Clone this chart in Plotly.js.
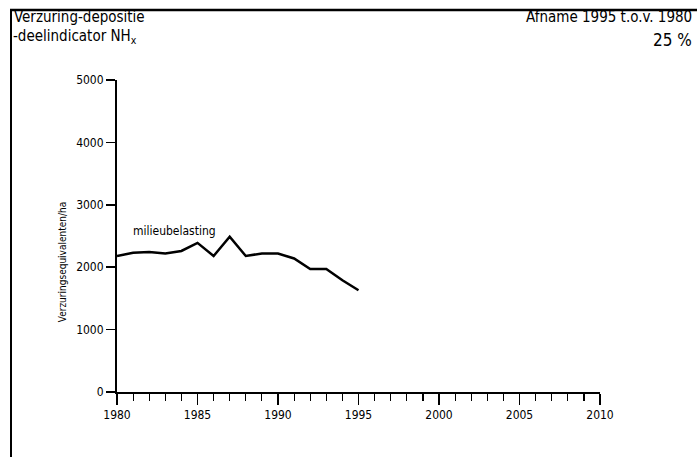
<!DOCTYPE html>
<html>
<head>
<meta charset="utf-8">
<script src="https://cdn.plot.ly/plotly-3.0.1.min.js"></script>
<style>html,body{margin:0;padding:0;background:#fff;}#chart{width:697px;height:457px;}</style>
</head>
<body>
<div id="chart"></div>
<script>
// Data
const years = [1980,1981,1982,1983,1984,1985,1986,1987,1988,1989,1990,1991,1992,1993,1994,1995];
const milieubelasting = [2180,2230,2245,2220,2260,2390,2180,2490,2180,2220,2220,2140,1970,1970,1790,1630];
const xTickVals = [1980,1985,1990,1995,2000,2005,2010];
const yTickVals = [0,1000,2000,3000,4000,5000];
const seriesLabel = 'milieubelasting';
const titleLine1 = 'Verzuring-depositie';
const titleLine2 = '-deelindicator NH<sub>x</sub>';
const rightLine1 = 'Afname 1995 t.o.v. 1980';
const rightLine2 = '25 %';
const yTitle = 'Verzuringsequivalenten/ha';

const W = 697, H = 457;
const L = 117, R = 600, T = 79.5, B = 392;
const px2x = p => (p - L) / (R - L);
const py2y = p => (B - p) / (B - T);
const FONT = '"DejaVu Sans Condensed", "Liberation Sans", sans-serif';

const trace = {
  x: years, y: milieubelasting, type: 'scatter', mode: 'lines',
  line: {color: '#000', width: 2.5}, hoverinfo: 'skip', showlegend: false
};

const layout = {
  width: W, height: H,
  margin: {l: L, r: W - R, t: T, b: H - B, pad: 0},
  paper_bgcolor: '#fff', plot_bgcolor: '#fff',
  font: {family: FONT, color: '#000', size: 12},
  showlegend: false,
  xaxis: {
    range: [1980, 2010], tickvals: xTickVals, ticktext: xTickVals.map(String),
    showline: true, linecolor: '#000', linewidth: 2,
    ticks: 'outside', ticklen: 11, tickwidth: 1.5, tickcolor: '#000',
    minor: {dtick: 1, tick0: 1980, ticks: 'outside', ticklen: 7, tickwidth: 1.2, tickcolor: '#000', showgrid: false},
    showgrid: false, zeroline: false, fixedrange: true,
    tickfont: {family: FONT, size: 12, color: '#000'}
  },
  yaxis: {
    range: [0, 5000], tickvals: yTickVals, ticktext: yTickVals.map(String),
    showline: true, linecolor: '#000', linewidth: 2,
    ticks: 'outside', ticklen: 9, tickwidth: 1.5, tickcolor: '#000',
    showgrid: false, zeroline: false, fixedrange: true,
    tickfont: {family: FONT, size: 12, color: '#000'}
  },
  shapes: [
    {type: 'line', xref: 'paper', yref: 'paper', x0: px2x(11), x1: px2x(11), y0: py2y(9), y1: py2y(458), line: {color: '#000', width: 2}},
    {type: 'line', xref: 'paper', yref: 'paper', x0: px2x(10), x1: px2x(698), y0: py2y(9.5), y1: py2y(9.5), line: {color: '#000', width: 2.5}}
  ],
  annotations: [
    {text: titleLine1, xref: 'paper', yref: 'paper', x: px2x(12), y: py2y(16), xanchor: 'left', yanchor: 'middle', showarrow: false, font: {family: FONT, size: 15, color: '#000'}},
    {text: titleLine2, xref: 'paper', yref: 'paper', x: px2x(11), y: py2y(36), xanchor: 'left', yanchor: 'middle', showarrow: false, font: {family: FONT, size: 15, color: '#000'}},
    {text: rightLine1, xref: 'paper', yref: 'paper', x: px2x(694), y: py2y(16), xanchor: 'right', yanchor: 'middle', showarrow: false, font: {family: FONT, size: 15, color: '#000'}},
    {text: rightLine2, xref: 'paper', yref: 'paper', x: px2x(694), y: py2y(39), xanchor: 'right', yanchor: 'middle', showarrow: false, font: {family: FONT, size: 17, color: '#000'}},
    {text: seriesLabel, xref: 'x', yref: 'y', x: 1983.6, y: 2580, xanchor: 'center', yanchor: 'middle', showarrow: false, font: {family: FONT, size: 12, color: '#000'}},
    {text: yTitle, xref: 'paper', yref: 'paper', x: px2x(62), y: py2y(262), xanchor: 'center', yanchor: 'middle', textangle: -90, showarrow: false, font: {family: FONT, size: 10, color: '#000'}}
  ]
};

Plotly.newPlot('chart', [trace], layout, {staticPlot: true, displayModeBar: false});
</script>
</body>
</html>
